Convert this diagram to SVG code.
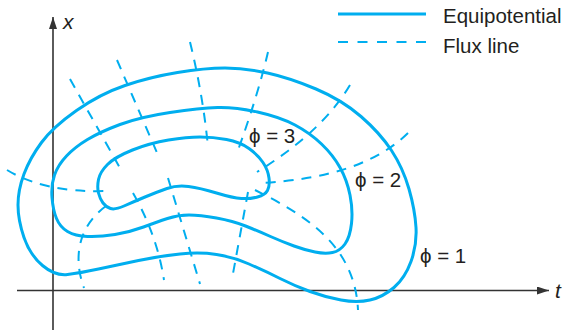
<svg xmlns="http://www.w3.org/2000/svg" width="566" height="330" viewBox="0 0 566 330">
<style>
.eq{fill:none;stroke:#00AEEF;stroke-width:3;stroke-linejoin:round}
.fx{fill:none;stroke:#00AEEF;stroke-width:2;stroke-dasharray:10 8}
.ax{fill:none;stroke:#333;stroke-width:1.6}
.lbl{font-family:"Liberation Sans",Arial,sans-serif;font-size:20.5px;fill:#231F20}
.it{font-family:"Liberation Sans",Arial,sans-serif;font-size:21px;font-style:italic;fill:#231F20}
</style>
<defs>
<marker id="arr" viewBox="0 0 12 8" refX="12" refY="4" markerWidth="12" markerHeight="8" markerUnits="userSpaceOnUse" orient="auto">
<path d="M0,0 L12,4 L0,8 Z" fill="#333"/>
</marker>
</defs>
<g id="axes">
<line class="ax" x1="53" y1="330" x2="53" y2="17" marker-end="url(#arr)"/>
<line class="ax" x1="17" y1="290.5" x2="549" y2="290.5" marker-end="url(#arr)"/>
<text class="it" x="63" y="29">x</text>
<text class="it" x="555" y="298">t</text>
</g>
<g id="legend">
<line class="eq" x1="338" y1="14" x2="426" y2="14"/>
<line class="fx" x1="338" y1="42" x2="426" y2="42" style="stroke-dasharray:10 9.5"/>
<text class="lbl" x="443" y="23">Equipotential</text>
<text class="lbl" x="443" y="53">Flux line</text>
</g>
<g id="connectors">
<path class="fx" d="M70,79 L120,168"/>
<path class="fx" d="M117,60 L158,155"/>
<path class="fx" d="M190,42 Q203,95 208,147"/>
<path class="fx" d="M268,52 Q258,95 237,153"/>
<path class="fx" d="M350,85 Q322,132 257,172"/>
<path class="fx" d="M408,133 Q362,178 260,183"/>
<path class="fx" d="M255,190 C305,215 355,245 358,310"/>
<path class="fx" d="M7,170 Q45,193 107,191"/>
<path class="fx" d="M106,206 C80,225 72,255 84,288"/>
<path class="fx" d="M133,193 Q157,235 164,280"/>
<path class="fx" d="M168,178 L200,284"/>
<path class="fx" d="M248,192 L232,279"/>
</g>
<g id="phi1">
<path class="eq" d="M42.5,265.5 Q30,255 24,237.5 Q18,220 18,205 Q18,190 24,174 Q30,158 41.5,142.5 Q53,127 76.5,110.5 Q100,94 125,85.5 Q150,77 177.5,72.5 Q205,68 225,68 Q245,68 267.5,73 Q290,78 316,89 Q342,100 361,116.5 Q380,133 391.5,150.5 Q403,168 409,189 Q415,210 416,227.5 Q417,245 411,261.5 Q405,278 394,287.5 Q383,297 370,300 Q357,303 341,300 Q325,297 310,291.5 Q295,286 280,278.5 Q265,271 249,264 Q233,257 216.5,254.5 Q200,252 180,254 Q160,256 138.5,260.5 Q117,265 98.5,269 Q80,273 67.5,274.5 Q55,276 42.5,265.5 Z"/>
<text class="lbl" x="420" y="263">ϕ = 1</text>
</g>
<g id="phi2">
<path class="eq" d="M87.5,236.5 Q75,236 67.5,231.5 Q60,227 56.5,218.5 Q53,210 52,197.5 Q51,185 54.5,175 Q58,165 66.5,156 Q75,147 87.5,139.5 Q100,132 120,124.5 Q140,117 170,112.5 Q200,108 217.5,107.5 Q235,107 257.5,112 Q280,117 295,125 Q310,133 321.5,144 Q333,155 340,167.5 Q347,180 350,195 Q353,210 351.5,223.5 Q350,237 345,244 Q340,251 332.5,252.5 Q325,254 315,252 Q305,250 294,246 Q283,242 270.5,236.5 Q258,231 245.5,226 Q233,221 216.5,218 Q200,215 189,215 Q178,215 167.5,218.5 Q157,222 143.5,227 Q130,232 115,234.5 Q100,237 87.5,236.5 Z"/>
<text class="lbl" x="355" y="187">ϕ = 2</text>
</g>
<g id="phi3">
<path class="eq" d="M98.5,179.5 Q100,172 107.5,164.5 Q115,157 132.5,150 Q150,143 168.5,140 Q187,137 200,137 Q213,137 226.5,139.5 Q240,142 249,148.5 Q258,155 263,162.5 Q268,170 269,178 Q270,186 267.5,190.5 Q265,195 257.5,197 Q250,199 241.5,198.5 Q233,198 216.5,193 Q200,188 188.5,186.5 Q177,185 167,188.5 Q157,192 145,197 Q133,202 124,206 Q115,210 110.5,208.5 Q106,207 103,203 Q100,199 98.5,193 Q97,187 98.5,179.5 Z"/>
<text class="lbl" x="249" y="143">ϕ = 3</text>
</g>
</svg>
